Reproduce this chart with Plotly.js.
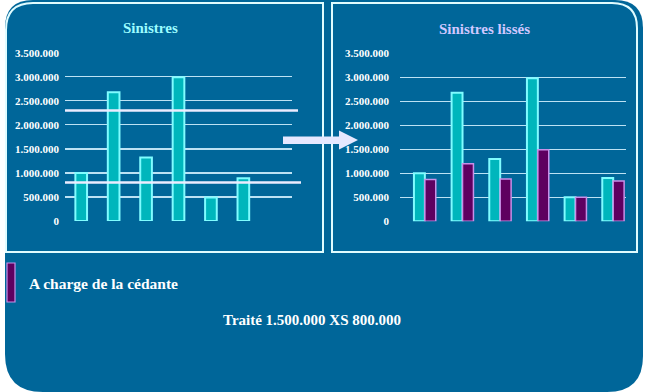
<!DOCTYPE html>
<html><head><meta charset="utf-8">
<script src="https://cdn.plot.ly/plotly-3.0.1.min.js"></script>
<style>html,body{margin:0;padding:0;background:#fff}#chart{width:648px;height:392px}</style>
</head><body><div id="chart"></div>
<script>
// ---- data ----
const categories = ['1', '2', '3', '4', '5', '6'];
const sinistres = [1000000, 2680000, 1320000, 2990000, 490000, 890000];
const sinistresLisses = [1000000, 2680000, 1300000, 2980000, 500000, 900000];
const chargeCedante = [870000, 1200000, 880000, 1490000, 500000, 840000];
const tickValues = [0, 500000, 1000000, 1500000, 2000000, 2500000, 3000000, 3500000];
const tickLabels = ['0', '500.000', '1.000.000', '1.500.000', '2.000.000', '2.500.000', '3.000.000', '3.500.000'];
const traiteBounds = [2300000, 800000]; // priorité + portée, priorité
const titles = ['Sinistres', 'Sinistres lissés'];
const legendLabel = 'A charge de la cédante';
const traiteLabel = 'Traité 1.500.000 XS 800.000';

// ---- helpers ----
const W = 648, H = 392;
const px = v => v / W;
const py = v => 1 - v / H;
function path(cmds) {
  return cmds.map(c => {
    const op = c[0];
    const nums = c.slice(1);
    const out = [];
    for (let i = 0; i < nums.length; i += 2) out.push(px(nums[i]).toFixed(5) + ',' + py(nums[i + 1]).toFixed(5));
    return op + out.join(' ');
  }).join(' ');
}

const BG = '#006699';
const TEAL = '#00b6bc';
const TEAL_LINE = '#80fcff';
const PURPLE = '#5e0060';
const PURPLE_LINE = '#c890e8';
const GRID = '#bce2f4';
const SERIF = 'Liberation Serif, Times New Roman, serif';

const traces = [
  { type: 'bar', x: categories, y: sinistres, xaxis: 'x', yaxis: 'y',
    marker: { color: TEAL, line: { color: TEAL_LINE, width: 2 } },
    width: 0.36, offset: -0.18, showlegend: false, hoverinfo: 'skip' },
  { type: 'bar', x: categories, y: sinistresLisses, xaxis: 'x2', yaxis: 'y2',
    marker: { color: TEAL, line: { color: TEAL_LINE, width: 2 } },
    width: 0.29, offset: -0.29, showlegend: false, hoverinfo: 'skip' },
  { type: 'bar', x: categories, y: chargeCedante, xaxis: 'x2', yaxis: 'y2',
    marker: { color: PURPLE, line: { color: PURPLE_LINE, width: 1.5 } },
    width: 0.29, offset: 0, showlegend: false, hoverinfo: 'skip' }
];

const tickFont = { family: SERIF, size: 11, color: '#ffffff', weight: 'bold' };
const yCommon = {
  range: [0, 3500000], tickmode: 'array', tickvals: tickValues, ticktext: tickLabels,
  tickfont: tickFont, showgrid: true, gridcolor: GRID, gridwidth: 1.3,
  zeroline: false, showline: false, ticks: '', fixedrange: true
};
const xCommon = { type: 'category', showticklabels: false, showgrid: false, zeroline: false, showline: false, ticks: '', fixedrange: true };

const shapes = [
  // blue rounded background
  { type: 'path', xref: 'paper', yref: 'paper', layer: 'below', fillcolor: BG, line: { width: 0 },
    path: path([['M', 5, 28], ['Q', 5, 0, 33, 0], ['L', 615, 0], ['Q', 643, 0, 643, 28], ['L', 643, 356],
      ['Q', 643, 392, 607, 392], ['L', 43, 392], ['Q', 5, 392, 5, 354], ['Z']]) },
  // left panel border
  { type: 'path', xref: 'paper', yref: 'paper', layer: 'below', line: { color: '#e0fcff', width: 2 },
    path: path([['M', 6, 252], ['L', 6, 30], ['Q', 6, 3, 33, 3], ['L', 323, 3], ['L', 323, 252], ['Z']]) },
  // right panel border
  { type: 'path', xref: 'paper', yref: 'paper', layer: 'below', line: { color: '#e0fcff', width: 2 },
    path: path([['M', 332, 3], ['L', 612, 3], ['Q', 637, 3, 637, 28], ['L', 637, 252], ['L', 332, 252], ['Z']]) },
  // treaty bounds on left chart
  { type: 'line', xref: 'paper', yref: 'y', layer: 'above', x0: px(65), x1: px(298), y0: traiteBounds[0], y1: traiteBounds[0],
    line: { color: '#ececff', width: 2.5 } },
  { type: 'line', xref: 'paper', yref: 'y', layer: 'above', x0: px(65), x1: px(301), y0: traiteBounds[1], y1: traiteBounds[1],
    line: { color: '#ececff', width: 2.5 } },
  // arrow
  { type: 'path', xref: 'paper', yref: 'paper', layer: 'above', fillcolor: '#e6e8ff', line: { width: 0 },
    path: path([['M', 283, 136.5], ['L', 339, 136.5], ['L', 339, 130.5], ['L', 358, 140], ['L', 339, 149.5], ['L', 339, 144], ['L', 283, 144], ['Z']]) },
  // legend swatch
  { type: 'rect', xref: 'paper', yref: 'paper', layer: 'above', x0: px(7), x1: px(15), y0: py(302), y1: py(263),
    fillcolor: PURPLE, line: { color: PURPLE_LINE, width: 1.2 } }
];

const annotations = [
  { text: titles[0], xref: 'paper', yref: 'paper', x: px(150), y: py(28), xanchor: 'center', yanchor: 'middle', showarrow: false,
    font: { family: SERIF, size: 15, color: '#9cfcff', weight: 'bold' } },
  { text: titles[1], xref: 'paper', yref: 'paper', x: px(484), y: py(29), xanchor: 'center', yanchor: 'middle', showarrow: false,
    font: { family: SERIF, size: 15, color: '#d0c8ff', weight: 'bold' } },
  { text: legendLabel, xref: 'paper', yref: 'paper', x: px(27), y: py(283), xanchor: 'left', yanchor: 'middle', showarrow: false,
    font: { family: SERIF, size: 15.5, color: '#ffffff', weight: 'bold' } },
  { text: traiteLabel, xref: 'paper', yref: 'paper', x: px(312), y: py(320), xanchor: 'center', yanchor: 'middle', showarrow: false,
    font: { family: SERIF, size: 15, color: '#ffffff', weight: 'bold' } }
];

const layout = {
  width: W, height: H, margin: { l: 0, r: 0, t: 0, b: 0 },
  paper_bgcolor: '#ffffff', plot_bgcolor: 'rgba(0,0,0,0)', showlegend: false,
  xaxis: Object.assign({}, xCommon, { domain: [px(65), px(292)], range: [-0.5, 6.5], anchor: 'y' }),
  yaxis: Object.assign({}, yCommon, { domain: [py(221), py(52.7)], anchor: 'x', ticklabelstandoff: 5 }),
  xaxis2: Object.assign({}, xCommon, { domain: [px(400), px(626)], range: [-0.66, 5.34], anchor: 'y2' }),
  yaxis2: Object.assign({}, yCommon, { domain: [py(221.3), py(53.3)], anchor: 'x2', ticklabelstandoff: 10 }),
  shapes: shapes, annotations: annotations
};

Plotly.newPlot('chart', traces, layout, { staticPlot: true, displayModeBar: false });
</script>
</body></html>
